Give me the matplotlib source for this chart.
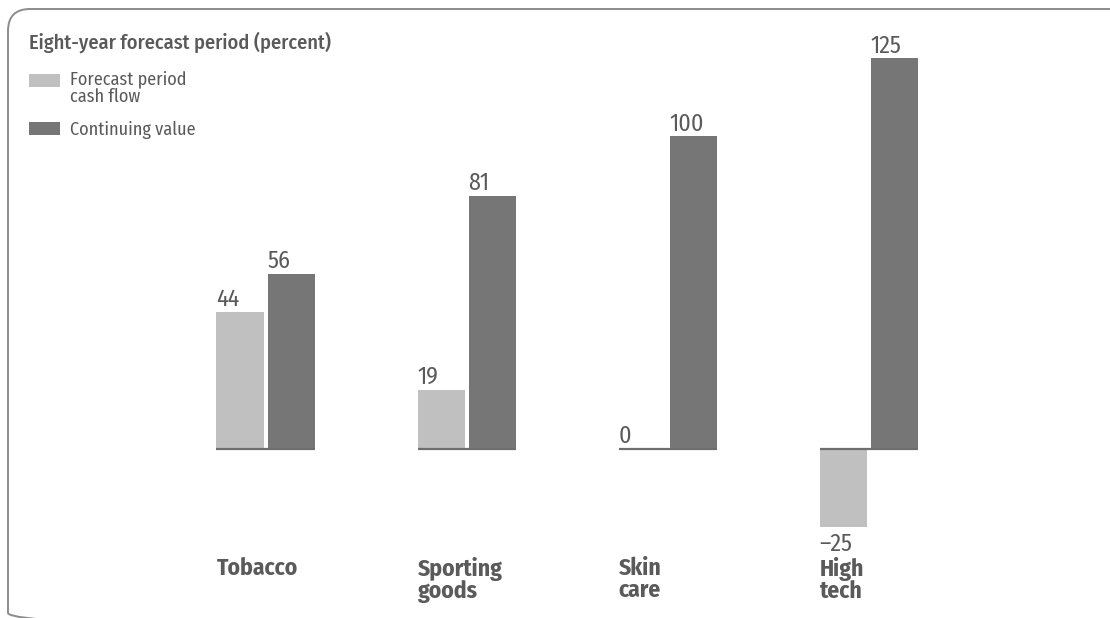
import numpy as np
import matplotlib
matplotlib.use("Agg")
import matplotlib.pyplot as plt
from matplotlib import font_manager as fm
from matplotlib.patches import FancyBboxPatch, Rectangle
from matplotlib.transforms import blended_transform_factory

title = "Eight-year forecast period (percent)"
categories = ["Tobacco", "Sporting\ngoods", "Skin\ncare", "High\ntech"]
series_names = ["Forecast period\ncash flow", "Continuing value"]
forecast_cf = [44, 19, 0, -25]
continuing = [56, 81, 100, 125]

LIGHT = "#c0c0c0"
DARK = "#767676"
TXT = "#5a5a5a"

# pick a narrow humanist sans that is installed
have = {f.name for f in fm.fontManager.ttflist}
prefs = ['Fira Sans Condensed', 'PT Sans Narrow', 'Open Sans Condensed', 'Encode Sans Condensed',
         'Roboto Condensed', 'IBM Plex Sans Condensed']
FONT = next((p for p in prefs if p in have), 'DejaVu Sans')
plt.rcParams['font.family'] = [FONT, 'DejaVu Sans']

fig = plt.figure(figsize=(11.1, 6.18), dpi=100)
rend = fig.canvas.get_renderer()

def fit(t, width_px):
    # scale font size so the text spans the measured width of the reference
    bb = t.get_window_extent(rend)
    t.set_fontsize(t.get_fontsize() * width_px / bb.width)
    return t.get_fontsize()

# background layer in pixel units: frame, title, legend
bg = fig.add_axes([0, 0, 1, 1])
bg.set_xlim(0, 1110)
bg.set_ylim(618, 0)
bg.axis('off')
bg.add_patch(FancyBboxPatch((8, 9), 1300, 626, boxstyle="round,pad=0,rounding_size=22",
                            fc='none', ec='#8c8c8c', lw=1.4))
tt = bg.text(29, 49, title, fontsize=15, color=TXT, va='baseline', ha='left', fontweight='medium')
fit(tt, 304)
bg.add_patch(Rectangle((29, 74), 31, 13, color=LIGHT, lw=0))
bg.add_patch(Rectangle((29, 122), 31, 13, color=DARK, lw=0))
l2 = bg.text(70, 135, series_names[1], fontsize=11, color=TXT, va='baseline')
lfs = fit(l2, 125)
bg.text(70, 102, series_names[0], fontsize=lfs, color=TXT, va='baseline', linespacing=1.0)

# bars
ax = fig.add_axes([0, 0, 1, 1], facecolor='none')
x = np.arange(len(categories))
w = 0.234
off = 0.254
ax.bar(x, forecast_cf, width=w, color=LIGHT)
ax.bar(x + off, continuing, width=w, color=DARK)
ax.hlines(np.zeros(len(x)), x - w / 2, x + off + w / 2, color='#6e6e6e', lw=1.6)
ax.set_xlim(-1.194, 4.328)
ax.set_ylim(-54.08, 143.68)
ax.axis('off')

probe = ax.text(0, 0, "125", fontsize=14)
vfs = fit(probe, 31)
probe.remove()

def lab(v):
    return str(v) if v >= 0 else "\u2013" + str(-v)

for xs, vals in [(x, forecast_cf), (x + off, continuing)]:
    for xi, v in zip(xs, vals):
        if v >= 0:
            ax.annotate(lab(v), (xi - w / 2, v), xytext=(0, 4), textcoords='offset points',
                        ha='left', va='baseline', fontsize=vfs, color=TXT)
        else:
            ax.annotate(lab(v), (xi - w / 2, v), xytext=(0, -4), textcoords='offset points',
                        ha='left', va='top', fontsize=vfs, color=TXT)

probe = ax.text(0, 0, "Sporting", fontsize=14, fontweight='bold')
cfs = fit(probe, 85)
probe.remove()

tr = blended_transform_factory(ax.transData, ax.transAxes)
for xi, c in zip(x, categories):
    ax.text(xi - w / 2, (618 - 557) / 618, c, transform=tr, ha='left', va='top',
            fontsize=cfs, fontweight='bold', color=TXT, linespacing=0.95)

fig.savefig("out.png", dpi=100)
